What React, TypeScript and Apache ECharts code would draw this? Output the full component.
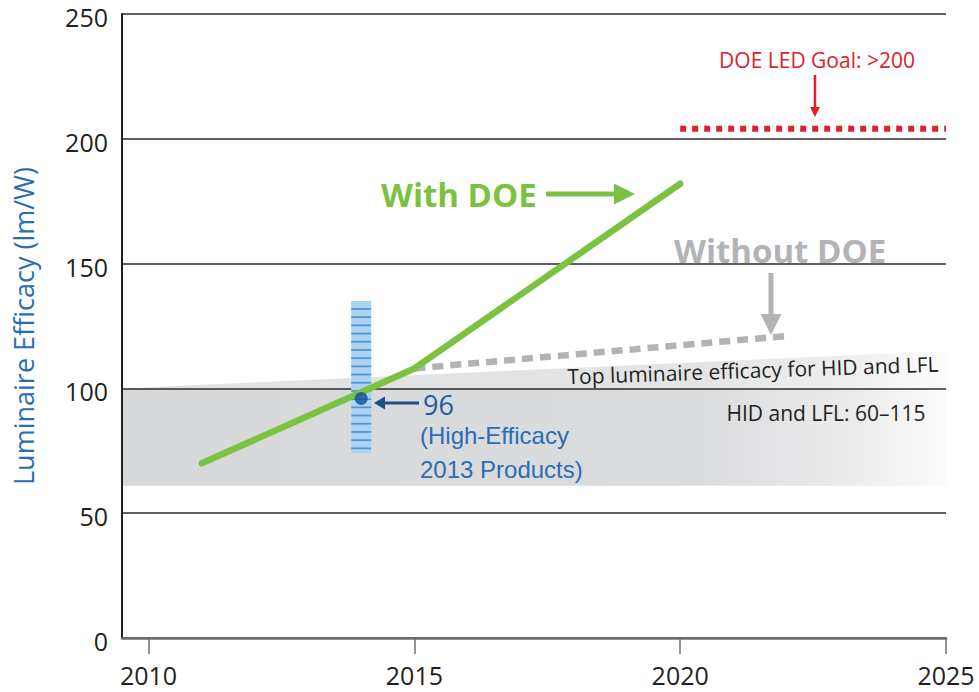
import React, { useEffect, useRef } from "react";
import * as echarts from "echarts";

// ---- data ----
const xTickYears = [2010, 2015, 2020, 2025];
const withDOE = [
  [2011, 70],
  [2015, 108],
  [2020, 182],
];
const withoutDOE = [
  [2015, 108],
  [2022, 121],
];
const doeGoal = [
  [2020, 204],
  [2025, 204],
];
// HID and LFL band: 60–115
const hidLflBand = [
  [2009.5, 61],
  [2025, 61],
  [2025, 100],
  [2009.5, 100],
];
const hidLflTopWedge = [
  [2009.5, 100],
  [2025, 115],
  [2025, 100],
];
const highEfficacyRange = [[2014, 74, 135]];
const highEfficacyPoint = [[2014, 96]];

const FONT = "'Open Sans', 'Noto Sans', sans-serif";
const DARK = "#231f20";
const GREEN = "#7cc242";
const GREY = "#b1b3b6";
const RED = "#e0202b";
const BLUE = "#2a6db3";

function bandSeries(points: number[][], stops: any[]) {
  return {
    type: "custom",
    coordinateSystem: "cartesian2d",
    z: -1,
    silent: true,
    data: [[2015, 80]],
    renderItem: (_p: any, api: any) => ({
      type: "polygon",
      shape: { points: points.map((pt) => api.coord(pt)) },
      style: { fill: new echarts.graphic.LinearGradient(0, 0, 1, 0, stops) },
    }),
  };
}

function arrow(x1: number, y1: number, x2: number, y2: number, color: string, lw: number, headLen: number, headHalf: number) {
  const dx = x2 - x1;
  const dy = y2 - y1;
  const len = Math.sqrt(dx * dx + dy * dy);
  const ux = dx / len;
  const uy = dy / len;
  const bx = x2 - ux * headLen;
  const by = y2 - uy * headLen;
  return [
    {
      type: "line",
      shape: { x1, y1, x2: x2 - ux * (headLen - 1), y2: y2 - uy * (headLen - 1) },
      style: { stroke: color, lineWidth: lw },
    },
    {
      type: "polygon",
      shape: {
        points: [
          [bx - uy * headHalf, by + ux * headHalf],
          [x2, y2],
          [bx + uy * headHalf, by - ux * headHalf],
        ],
      },
      style: { fill: color },
    },
  ];
}

export default function App() {
  const ref = useRef<HTMLDivElement>(null);
  useEffect(() => {
    document.body.style.margin = "0";
    const chart = echarts.init(ref.current!, null, { renderer: "svg" });
    chart.setOption({
      animation: false,
      textStyle: { fontFamily: FONT },
      grid: { left: 122, top: 14, width: 824, height: 624 },
      xAxis: {
        type: "value",
        min: 2009.5,
        max: 2025,
        splitLine: { show: false },
        axisLine: { lineStyle: { color: "#6d6e70", width: 2.5 } },
        axisTick: {
          customValues: xTickYears,
          length: 16,
          lineStyle: { color: "#6d6e70", width: 1.5 },
        },
        axisLabel: {
          customValues: xTickYears,
          formatter: (v: number) => String(v),
          fontSize: 25,
          color: DARK,
          margin: 24,
          fontFamily: FONT,
        },
      },
      yAxis: {
        type: "value",
        min: 0,
        max: 250,
        interval: 50,
        name: "Luminaire Efficacy (lm/W)",
        nameLocation: "middle",
        nameRotate: 90,
        nameGap: 85,
        nameTextStyle: { color: BLUE, fontSize: 27, fontFamily: FONT },
        axisLine: { show: true, lineStyle: { color: DARK, width: 2 } },
        axisTick: { show: false },
        axisLabel: {
          fontSize: 25,
          verticalAlign: "top",
          lineHeight: 6,
          color: DARK,
          margin: 14,
          fontFamily: FONT,
        },
        splitLine: { lineStyle: { color: "#2b2b2b", width: 1.6 } },
      },
      series: [
        bandSeries(hidLflBand, [
          { offset: 0, color: "#d7d8da" },
          { offset: 0.7, color: "#dbdcde" },
          { offset: 0.9, color: "#ededee" },
          { offset: 1, color: "#fcfcfc" },
        ]),
        bandSeries(hidLflTopWedge, [
          { offset: 0, color: "#e0e1e2" },
          { offset: 0.7, color: "#e3e4e5" },
          { offset: 0.9, color: "#f0f0f1" },
          { offset: 1, color: "#fdfdfd" },
        ]),
        {
          type: "custom",
          name: "High-Efficacy 2013 Products range",
          coordinateSystem: "cartesian2d",
          silent: true,
          data: highEfficacyRange,
          renderItem: (_p: any, api: any) => {
            const top = api.coord([api.value(0), api.value(2)]);
            const bot = api.coord([api.value(0), api.value(1)]);
            const w = 20;
            const children: any[] = [
              {
                type: "rect",
                shape: { x: top[0] - w / 2, y: top[1], width: w, height: bot[1] - top[1] },
                style: { fill: "#acd4f1" },
              },
            ];
            for (let y = top[1] + 7; y < bot[1] - 3; y += 8.2) {
              children.push({
                type: "rect",
                shape: { x: top[0] - w / 2, y, width: w, height: 1.8 },
                style: { fill: "#4d97d6" },
              });
            }
            return { type: "group", children };
          },
        },
        {
          type: "line",
          name: "Without DOE",
          data: withoutDOE,
          symbol: "none",
          lineStyle: { color: GREY, width: 6.5, type: [11, 7] },
        },
        {
          type: "line",
          name: "With DOE",
          data: withDOE,
          symbol: "none",
          lineStyle: { color: GREEN, width: 6.5, cap: "round" },
          z: 3,
        },
        {
          type: "line",
          name: "DOE LED Goal",
          data: doeGoal,
          symbol: "none",
          lineStyle: { color: RED, width: 6, type: [6, 6] },
        },
        {
          type: "scatter",
          name: "High-Efficacy 2013 Products",
          data: highEfficacyPoint,
          symbolSize: 13,
          itemStyle: { color: "#0d4f93" },
          z: 4,
        },
      ],
      graphic: [
        {
          type: "text",
          x: 817,
          y: 60,
          style: { text: "DOE LED Goal: >200", fill: RED, font: `21px ${FONT}`, align: "center", verticalAlign: "middle" },
        },
        ...arrow(815, 75, 815, 117, RED, 2.5, 10, 5),
        {
          type: "text",
          x: 381,
          y: 194,
          style: { text: "With DOE", fill: GREEN, font: `bold 33px ${FONT}`, align: "left", verticalAlign: "middle" },
        },
        ...arrow(546, 194, 635, 194, GREEN, 5, 21, 10.5),
        {
          type: "text",
          x: 674,
          y: 250,
          style: { text: "Without DOE", fill: GREY, font: `bold 33px ${FONT}`, align: "left", verticalAlign: "middle" },
        },
        ...arrow(771, 273, 771, 335, GREY, 5, 21, 10.5),
        ...arrow(419, 403, 374, 403, "#1a4f8c", 3, 11, 6.5),
        {
          type: "text",
          x: 423,
          y: 404,
          style: { text: "96", fill: "#1c5c9f", font: `27px ${FONT}`, align: "left", verticalAlign: "middle" },
        },
        {
          type: "text",
          x: 420,
          y: 435,
          style: { text: "(High-Efficacy", fill: BLUE, font: "24px 'Liberation Sans', Arial, sans-serif", align: "left", verticalAlign: "middle" },
        },
        {
          type: "text",
          x: 420,
          y: 469,
          style: { text: "2013 Products)", fill: BLUE, font: "24px 'Liberation Sans', Arial, sans-serif", align: "left", verticalAlign: "middle" },
        },
        {
          type: "text",
          x: 753,
          y: 370,
          rotation: 0.034,
          style: { text: "Top luminaire efficacy for HID and LFL", fill: DARK, font: `21px ${FONT}`, align: "center", verticalAlign: "middle" },
        },
        {
          type: "text",
          x: 826,
          y: 413,
          style: { text: "HID and LFL: 60–115", fill: DARK, font: `21px ${FONT}`, align: "center", verticalAlign: "middle" },
        },
      ],
    });
    return () => chart.dispose();
  }, []);
  return <div ref={ref} style={{ width: 979, height: 692, position: "absolute", left: 0, top: 0 }} />;
}
